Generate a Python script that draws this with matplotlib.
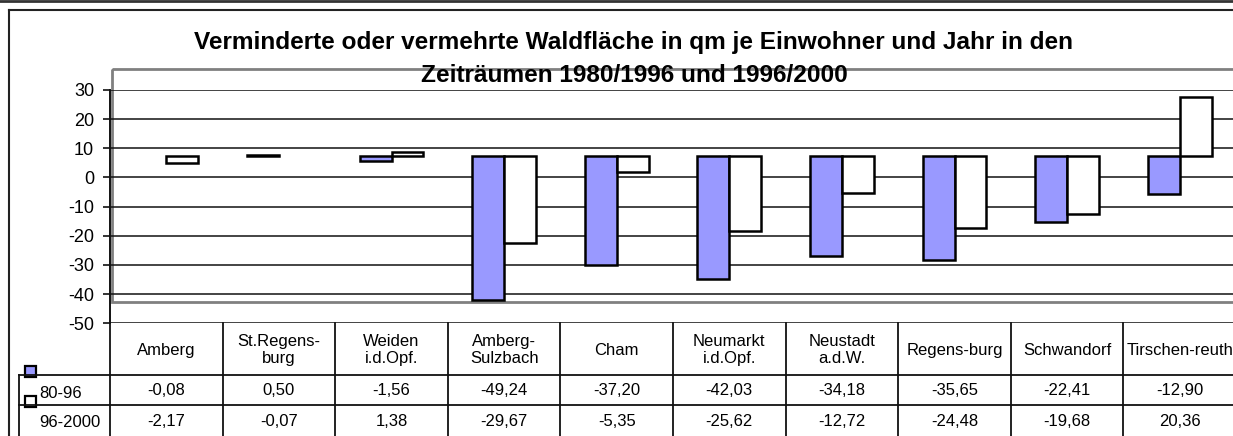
import matplotlib
matplotlib.use("Agg")
import matplotlib.pyplot as plt
from matplotlib.patches import Rectangle
from matplotlib.lines import Line2D
from matplotlib.transforms import blended_transform_factory
import numpy as np

plt.rcParams['font.family'] = ['Liberation Sans', 'DejaVu Sans']

# ---- data ----
categories = ["Amberg", "St.Regens-\nburg", "Weiden\ni.d.Opf.", "Amberg-\nSulzbach", "Cham",
              "Neumarkt\ni.d.Opf.", "Neustadt\na.d.W.", "Regens-burg", "Schwandorf", "Tirschen-reuth"]
series_names = ["80-96", "96-2000"]
values_80_96 = [-0.08, 0.50, -1.56, -49.24, -37.20, -42.03, -34.18, -35.65, -22.41, -12.90]
values_96_2000 = [-2.17, -0.07, 1.38, -29.67, -5.35, -25.62, -12.72, -24.48, -19.68, 20.36]
y_ticks = [30, 20, 10, 0, -10, -20, -30, -40, -50]
title_lines = ["Verminderte oder vermehrte Waldfläche in qm je Einwohner und Jahr in den",
               "Zeiträumen 1980/1996 und 1996/2000"]

# bars in the original are drawn from a shifted baseline
BASELINE = 7.3

W, H = 1233, 436
fig = plt.figure(figsize=(W / 100, H / 100), dpi=100)
fig.patch.set_facecolor('white')

# overlay in pixel coordinates
ov = fig.add_axes([0, 0, 1, 1], zorder=0)
ov.set_xlim(0, W)
ov.set_ylim(H, 0)
ov.axis('off')

# main axes
px_left, px_right = 110, 1236
px_top, px_bot = 90, 323.3
ax = fig.add_axes([px_left / W, (H - px_bot) / H, (px_right - px_left) / W, (px_bot - px_top) / H], zorder=2)
ax.patch.set_alpha(0)

n = len(categories)
x = np.arange(n)
w = 0.284
ax.set_xlim(-0.5, n - 0.5)
ax.set_ylim(min(y_ticks), max(y_ticks))
ax.set_yticks(y_ticks)
ax.set_yticklabels([str(t) for t in y_ticks], fontsize=13)
ax.tick_params(axis='y', length=5, width=1.2, color='#111111', pad=6.5)
ax.set_xticks([])
for s in ['top', 'right', 'bottom']:
    ax.spines[s].set_visible(False)
ax.spines['left'].set_color('#111111')
ax.spines['left'].set_linewidth(1.4)
ax.grid(axis='y', color='#111111', linewidth=1.1)
ax.set_axisbelow(True)

ec1 = ['black' if abs(v) >= 0.1 else 'none' for v in values_80_96]
ec2 = ['black' if abs(v) >= 0.1 else 'none' for v in values_96_2000]
ax.bar(x - w / 2, values_80_96, w, bottom=BASELINE, color='#9999FF', edgecolor=ec1, linewidth=1.8, zorder=3)
ax.bar(x + w / 2, values_96_2000, w, bottom=BASELINE, color='white', edgecolor=ec2, linewidth=1.8, zorder=3)

# plot area border (gray)
ov.add_patch(Rectangle((112, 69), 1300, 233, fill=False, edgecolor='#808080', linewidth=2))

# chart and page borders
ov.add_line(Line2D([0, W], [1, 1], color='#333333', linewidth=2))
ov.add_line(Line2D([9, W], [10, 10], color='#222222', linewidth=1.5))
ov.add_line(Line2D([9, 9], [10, H], color='#222222', linewidth=1.5))

# title
ov.text(634, 49.3, title_lines[0], ha='center', va='baseline', fontsize=17.6, fontweight='bold')
ov.text(634, 81.7, title_lines[1], ha='center', va='baseline', fontsize=17.6, fontweight='bold')

# data table
bt = blended_transform_factory(ax.transData, ov.transData)
row1_y, row2_y, hdr_y = 375, 405.3, 350
for b in np.arange(-0.5, n, 1.0):
    ov.add_line(Line2D([b, b], [px_bot, H], color='#111111', linewidth=1.3, transform=bt))
ov.add_line(Line2D([19, W], [row1_y, row1_y], color='#111111', linewidth=1.3))
ov.add_line(Line2D([19, W], [row2_y, row2_y], color='#111111', linewidth=1.3))
ov.add_line(Line2D([19, 19], [row1_y, H], color='#111111', linewidth=1.3))

for i, name in enumerate(categories):
    ov.text(i, hdr_y, name, transform=bt, ha='center', va='center', fontsize=12, linespacing=1.2)
    ov.text(i, 390.5, f"{values_80_96[i]:.2f}".replace('.', ','), transform=bt,
            ha='center', va='center', fontsize=12)
    ov.text(i, 421, f"{values_96_2000[i]:.2f}".replace('.', ','), transform=bt,
            ha='center', va='center', fontsize=12)

# row labels and legend keys
ov.text(39, 393.5, series_names[0], ha='left', va='center', fontsize=12)
ov.text(39, 422.5, series_names[1], ha='left', va='center', fontsize=12)
ov.add_patch(Rectangle((25, 366), 11, 11, facecolor='#9999FF', edgecolor='black', linewidth=1.6))
ov.add_patch(Rectangle((25, 396), 11, 10.5, facecolor='white', edgecolor='black', linewidth=1.6))

fig.savefig("out.png", dpi=100)
